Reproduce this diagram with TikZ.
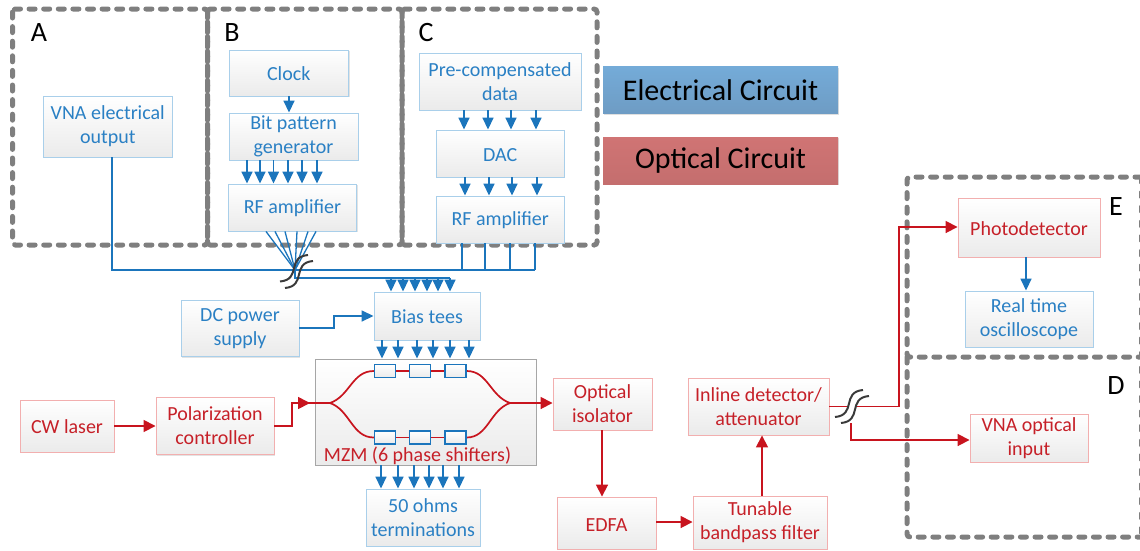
\documentclass[tikz,border=0pt]{standalone}
\usepackage{fontspec}
\setmainfont{Carlito}
\usetikzlibrary{arrows.meta,shadows,calc}
\definecolor{eline}{HTML}{1B75BC}
\definecolor{etext}{HTML}{2A80C4}
\definecolor{eedge}{HTML}{A9CFEA}
\definecolor{oline}{HTML}{C8141E}
\definecolor{otext}{HTML}{C62028}
\definecolor{oedge}{HTML}{F2AFAF}
\definecolor{dashc}{HTML}{7F7F7F}
\definecolor{breakc}{HTML}{3A3A3A}
\definecolor{legbt}{HTML}{74ABD8}
\definecolor{legbb}{HTML}{6E9CC4}
\definecolor{legrt}{HTML}{D07474}
\definecolor{legrb}{HTML}{C46E6E}
\tikzset{
  boxbase/.style={rectangle,inner sep=0pt,line width=0.9pt,align=center,top color=white,bottom color=black!8,
    drop shadow={opacity=.22,shadow xshift=1.2pt,shadow yshift=-1.2pt},font=\fontsize{20}{24}\selectfont,
    execute at begin node={\rule{0pt}{16pt}}},
  ebox/.style={boxbase,draw=eedge,text=etext},
  obox/.style={boxbase,draw=oedge,text=otext},
  gbox/.style={boxbase,draw=black!35,text=otext},
  ps/.style={rectangle,inner sep=0pt,draw=eline,line width=1.4pt,top color=white,bottom color=black!8,minimum width=21pt,minimum height=13pt},
  ew/.style={eline,line width=1.6pt},
  ea/.style={ew,-{Triangle[length=12pt,width=11pt]}},
  ow/.style={oline,line width=1.7pt},
  oa/.style={ow,-{Triangle[length=12pt,width=12pt]}},
  dashbox/.style={dashc,line width=5pt,line cap=round,dash pattern=on 6pt off 8.6pt,rounded corners=3pt},
  brk/.style={breakc,line width=2pt},
  lbl/.style={inner sep=0pt,text=black,font=\fontsize{28}{30}\selectfont},
  leg/.style={rectangle,inner sep=0pt,text=black,minimum width=235pt,minimum height=47pt,
    drop shadow={opacity=.25,shadow xshift=1.2pt,shadow yshift=-1.2pt},font=\fontsize{30}{32}\selectfont}
}
\newcommand{\bx}[7][ebox]{%
  \pgfmathsetmacro{\cxx}{(#3+#5)/2}\pgfmathsetmacro{\cyy}{(#4+#6)/2}%
  \pgfmathsetmacro{\www}{#5-#3}\pgfmathsetmacro{\hhh}{#6-#4}%
  \node[#1,minimum width=\www pt,minimum height=\hhh pt] (#2) at (\cxx,\cyy) {#7};}
\begin{document}
\begin{tikzpicture}[x=1pt,y=-1pt]
\useasboundingbox (0,0) rectangle (1140,550);
% dashed regions
\draw[dashbox] (12.5,9) rectangle (207.5,245);
\draw[dashbox] (207.5,9) rectangle (402,245);
\draw[dashbox] (402,9) rectangle (597,245);
\draw[dashbox] (1141,177) -- (907,177) -- (907,357) -- (1141,357);
\draw[dashbox] (907,357) -- (907,537) -- (1141,537);
\draw[dashbox,line width=3pt] (1140,177) -- (1140,537);
\node[lbl] (la) at (39,33) {A};
\node[lbl] (lb) at (232,33) {B};
\node[lbl] (lc) at (426,33) {C};
\node[lbl] (le) at (1116,207) {E};
\node[lbl] (ld) at (1116,386) {D};
% legend
\node[leg,top color=legbt,bottom color=legbb] (legE) at (720.5,90) {Electrical Circuit};
\node[leg,top color=legrt,bottom color=legrb] (legO) at (720.5,160.5) {Optical Circuit};
% electrical boxes
\bx{vna}{43.5}{96}{172}{157}{VNA electrical\\output}
\bx{clk}{229}{50}{348.5}{96}{Clock}
\bx{bit}{229}{113}{358}{160}{Bit pattern\\generator}
\bx{rfb}{228.5}{184}{356.5}{231}{RF amplifier}
\bx{pre}{419}{53}{581}{110}{Pre-compensated\\data}
\bx{dac}{436.5}{130}{564}{177}{DAC}
\bx{rfc}{436.5}{196}{564}{243}{RF amplifier}
\bx{bias}{374}{292}{480}{340}{Bias tees}
\bx{dc}{181}{300}{299}{356.5}{DC power\\supply}
\bx[gbox]{mzm}{315}{359}{536}{465}{}
\bx{term}{366}{489}{480}{546}{50 ohms\\terminations}
\bx{rt}{965}{291}{1093}{347}{Real time\\oscilloscope}
% optical boxes
\bx[obox]{cw}{20}{400}{114}{452}{CW laser}
\bx[obox]{pc}{156}{397}{274}{454.5}{Polarization\\controller}
\bx[obox]{iso}{553}{378}{652}{430}{Optical\\isolator}
\bx[obox]{edfa}{557}{497}{656}{549}{EDFA}
\bx[obox]{tbf}{693}{496}{827}{549}{Tunable\\bandpass filter}
\bx[obox]{inl}{688}{378}{829}{435}{Inline detector/\\attenuator}
\bx[obox]{pd}{958}{198}{1100}{257}{Photodetector}
\bx[obox]{vop}{970}{414}{1088}{462}{VNA optical\\input}
% free points
\coordinate (fan) at (295,270);
\coordinate (fanb) at (295,278);
\coordinate (lj) at (330,403);
\coordinate (rj) at (510,403);
\coordinate (splt) at (851,423);
% simple arrows
\draw[ea] (clk.south -| 289,0) -- (bit.north -| 289,0);
\foreach \x in {247,260,273.5,288,302,317} \draw[ea] (bit.south -| \x,0) -- (rfb.north -| \x,0);
\foreach \x in {464,488,511,536} \draw[ea] (pre.south -| \x,0) -- (dac.north -| \x,0);
\foreach \x in {465,489,512,537} \draw[ea] (dac.south -| \x,0) -- (rfc.north -| \x,0);
% fan in and bus
\foreach \x in {266,275,285,297,308,316} \draw[eline,line width=1.3pt] (rfb.south -| \x,0) -- (fan);
\draw[ew] (vna.south -| 112,0) -- (112,270) -- (535,270);
\foreach \x in {462,485,510,535} \draw[ew,line width=1.3pt] (rfc.south -| \x,0) -- (\x,270);
\draw[ew] (fan) -- (fanb) -- (450,278);
\foreach \x in {391,403,415,427,438,450} \draw[ea] (\x,278) -- (bias.north -| \x,0);
\draw[ea] (dc.east |- 0,328) -- (334,328) -- (334,316) -- (bias.west);
\foreach \x in {382,398,417,433,450,469} \draw[ea] (bias.south -| \x,0) -- (mzm.north -| \x,0);
\foreach \x in {381,398,414,429,443,459} \draw[ea] (mzm.south -| \x,0) -- (term.north -| \x,0);
% MZM interior
\foreach \a/\n in {371/t,437.5/b}{
  \node[ps] (\n1) at (385,\a) {};
  \node[ps] (\n2) at (420,\a) {};
  \node[ps] (\n3) at (455.5,\a) {};
  \draw[ow] (\n1) -- (\n2) -- (\n3);
}
\draw[ow] (lj) .. controls (350,396) and (352,371) .. (t1.west);
\draw[ow] (lj) .. controls (350,410) and (352,437.5) .. (b1.west);
\draw[ow] (rj) .. controls (490,396) and (488,371) .. (t3.east);
\draw[ow] (rj) .. controls (490,410) and (488,437.5) .. (b3.east);
\foreach \a/\n in {371/t,437.5/b}{
  \node[ps] at (\n1) {};\node[ps] at (\n2) {};\node[ps] at (\n3) {};
}
\node[inner sep=0pt,text=otext,font=\fontsize{20}{24}\selectfont] (mzl) at (417.5,456) {MZM (6 phase shifters)};
% optical connectors
\draw[oa] (cw.east |- 0,426) -- (pc.west |- 0,426);
\draw[ow] (pc.east |- 0,426) -- (292,426) -- (292,403) -- (lj);
\draw[oa] (292,403) -- (310,403);
\draw[oa] (rj) -- (rj -| iso.west);
\draw[oa] (iso.south -| 602,0) -- (edfa.north -| 602,0);
\draw[oa] (edfa.east |- 0,522) -- (tbf.west |- 0,522);
\draw[oa] (tbf.north -| 762,0) -- (inl.south -| 762,0);
\draw[oa] (inl.east |- 0,406.5) -- (899,406.5) -- (899,227) -- (pd.west |- 0,227);
\draw[oa] (splt) -- (851,440) -- (vop.west |- 0,440);
\draw[ea] (pd.south -| 1026,0) -- (rt.north -| 1026,0);
% line breaks
\coordinate (b1a) at (280,281.5);\coordinate (b1b) at (308,255);
\coordinate (b2a) at (285,288);\coordinate (b2b) at (313,261);
\coordinate (b3a) at (835,417);\coordinate (b3b) at (863,390);
\coordinate (b4a) at (841,423);\coordinate (b4b) at (869,396);
\draw[white,line width=5pt] (838,420) -- (866,393);
\foreach \p/\q in {b1a/b1b,b2a/b2b,b3a/b3b,b4a/b4b}
  \draw[brk] (\p) .. controls ($(\p)+(22,-2)$) and ($(\q)+(-22,2)$) .. (\q);
\end{tikzpicture}
\end{document}
